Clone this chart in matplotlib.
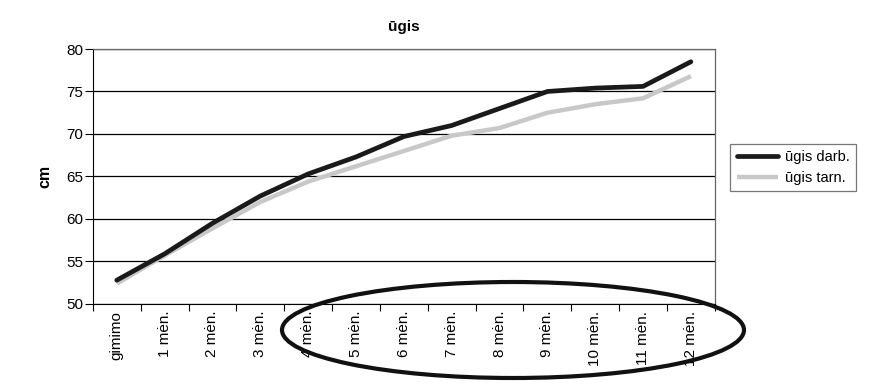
import matplotlib
matplotlib.use('Agg')
import matplotlib.pyplot as plt
from matplotlib.patches import Ellipse

plt.rcParams['font.family'] = ['Liberation Sans', 'DejaVu Sans']

# duomenys
kategorijos = ['gimimo', '1 mėn.', '2 mėn.', '3 mėn.', '4 mėn.', '5 mėn.', '6 mėn.',
               '7 mėn.', '8 mėn.', '9 mėn.', '10 mėn.', '11 mėn.', '12 mėn.']
ugis_darb = [52.8, 55.9, 59.5, 62.7, 65.3, 67.3, 69.7, 71.0, 73.0, 75.0, 75.4, 75.6, 78.5]
ugis_tarn = [52.4, 55.7, 58.9, 62.0, 64.4, 66.2, 68.0, 69.8, 70.7, 72.5, 73.5, 74.2, 76.8]
y_ticks = [50, 55, 60, 65, 70, 75, 80]

fig = plt.figure(figsize=(8.76, 3.92), dpi=100)
ax = fig.add_axes([0.106, 0.2245, 0.71, 0.6505])

x = list(range(len(kategorijos)))
ax.plot(x, ugis_tarn, color='#c8c8c8', lw=3.2, label='ūgis tarn.', solid_capstyle='butt')
ax.plot(x, ugis_darb, color='#1a1a1a', lw=3.4, label='ūgis darb.', solid_capstyle='round')

ax.set_xlim(-0.5, len(kategorijos) - 0.5)
ax.set_ylim(50, 80)
ax.set_yticks(y_ticks)
ax.yaxis.grid(True, color='black', lw=0.9)
ax.set_axisbelow(True)

# ticks tarp kategoriju, etiketes centre
ax.set_xticks([i - 0.5 for i in range(len(kategorijos) + 1)])
ax.set_xticklabels([])
ax.set_xticks(x, minor=True)
ax.set_xticklabels(kategorijos, minor=True, rotation=90, fontsize=11)
ax.tick_params(axis='x', which='major', length=5, direction='out', color='black')
ax.tick_params(axis='x', which='minor', length=0, pad=5)
ax.tick_params(axis='y', length=6, direction='out', labelsize=11, pad=1)

for side in ['top', 'right']:
    ax.spines[side].set_color('#666666')
    ax.spines[side].set_linewidth(0.9)
ax.spines['left'].set_color('black')
ax.spines['bottom'].set_color('black')

ax.set_title('ūgis', fontsize=11, fontweight='bold', pad=13)
ax.set_ylabel('cm', fontsize=11.5, fontweight='bold', labelpad=10)

handles, labels = ax.get_legend_handles_labels()
leg = ax.legend(handles[::-1], labels[::-1], loc='center left',
                bbox_to_anchor=(1.025, 0.535), fontsize=10.5, frameon=True,
                fancybox=False, edgecolor='#555555', handlelength=2.8,
                handletextpad=0.5, borderpad=0.45, labelspacing=0.45,
                borderaxespad=0)
leg.get_frame().set_linewidth(0.9)

# ranka nupiesta elipse
ell = Ellipse((513 / 876, 1 - 330 / 392), 462 / 876, 96 / 392,
              transform=fig.transFigure, fill=False, edgecolor='#111111', lw=3)
fig.patches.append(ell)

fig.savefig('out.png', dpi=100)
